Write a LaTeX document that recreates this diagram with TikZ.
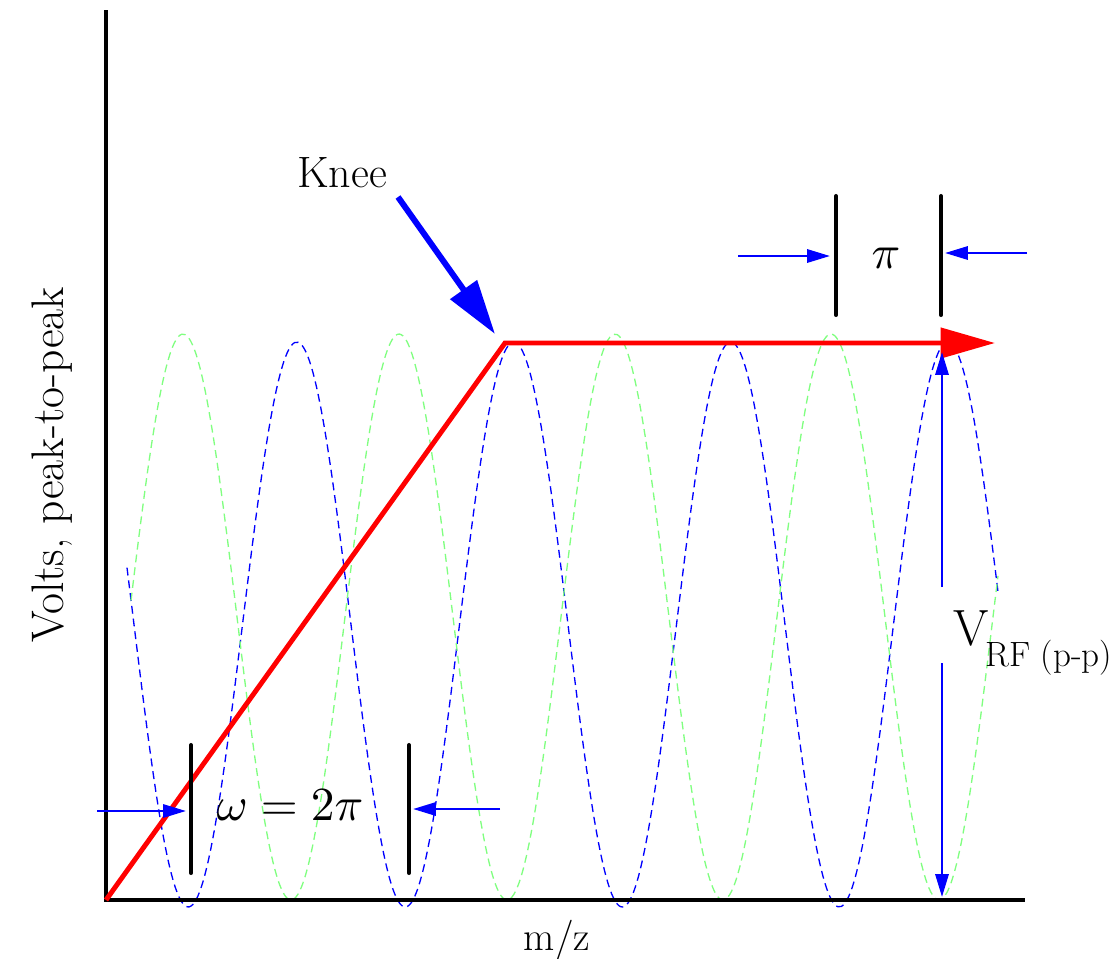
\documentclass[tikz,border=0pt]{standalone}
\usepackage{graphicx}
\usetikzlibrary{arrows.meta}
\definecolor{wavegreen}{RGB}{128,255,128}

\begin{document}
\begin{tikzpicture}[
  x=0.02cm, y=-0.02cm,
  axis/.style={line width=2.3pt, draw=black},
  ramp/.style={line width=2.8pt, draw=red, -{Triangle[length=31pt,width=17pt]}},
  bluewave/.style={draw=blue, line width=0.75pt, dash pattern=on 4.5pt off 2.8pt},
  greenwave/.style={draw=wavegreen, line width=0.75pt, dash pattern=on 4.5pt off 2.8pt},
  bar/.style={line width=2.3pt, draw=black, line cap=round},
  dim/.style={draw=blue, line width=1.4pt, -{Triangle[length=13pt,width=7.5pt]}},
  kneearr/.style={draw=blue, line width=3.4pt, -{Triangle[length=31pt,width=18pt]}},
  lbl/.style={font=\fontsize{25}{30}\selectfont, inner sep=0pt},
  sym/.style={font=\fontsize{29}{34}\selectfont, inner sep=0pt},
]
\useasboundingbox (0,0) rectangle (1119,958);

% Key points
\coordinate (O) at (106,900);
\coordinate (ytop) at (106,10);
\coordinate (xend) at (1025,900);
\coordinate (knee) at (505,343);
\coordinate (rfend) at (995,343);

% RF waves (period about 217 px)
\draw[bluewave] plot[domain=127:998, samples=240, smooth]
  (\x,{624.5+282.5*sin(1.659*(\x-134))});
\draw[greenwave] plot[domain=131:998, samples=240, smooth]
  (\x,{617-283*sin(1.6667*(\x-129))});

% Axes
\draw[axis] (ytop) -- (O) -- (xend);

% Ramp
\draw[ramp] (O) -- (knee) -- (rfend);

% Knee
\node[lbl, anchor=base] (kneelbl) at (342,187) {Knee};
\coordinate (kneefrom) at (398,197);
\coordinate (kneetip) at (495,334);
\draw[kneearr] (kneefrom) -- (kneetip);

% omega = 2 pi
\coordinate (w1t) at (191,745);
\coordinate (w1b) at (191,873);
\coordinate (w2t) at (409,745);
\coordinate (w2b) at (409,873);
\draw[bar] (w1t) -- (w1b);
\draw[bar] (w2t) -- (w2b);
\coordinate (w1in) at (97,811);
\coordinate (w1tip) at (186,811);
\coordinate (w2in) at (500,809);
\coordinate (w2tip) at (413,809);
\draw[dim] (w1in) -- (w1tip);
\draw[dim] (w2in) -- (w2tip);
\node[inner sep=0pt, anchor=base] (omega) at (290,820) {\scalebox{2.7}{$\omega = 2\pi$}};

% pi
\coordinate (p1t) at (836,196);
\coordinate (p1b) at (836,315);
\coordinate (p2t) at (941,196);
\coordinate (p2b) at (941,315);
\draw[bar] (p1t) -- (p1b);
\draw[bar] (p2t) -- (p2b);
\coordinate (p1in) at (738,256);
\coordinate (p1tip) at (830,256);
\coordinate (p2in) at (1027,253);
\coordinate (p2tip) at (945,253);
\draw[dim] (p1in) -- (p1tip);
\draw[dim] (p2in) -- (p2tip);
\node[inner sep=0pt, anchor=base] (pilbl) at (886,268) {\scalebox{2.7}{$\pi$}};

% V_RF
\coordinate (vup) at (942,587);
\coordinate (vuptip) at (942,352);
\coordinate (vdn) at (942,663);
\coordinate (vdntip) at (942,897);
\draw[dim] (vup) -- (vuptip);
\draw[dim] (vdn) -- (vdntip);
\node[sym, anchor=base west] (vrf) at (953,645)
  {V\kern-2pt\raisebox{-12.5pt}{\fontsize{20}{24}\selectfont RF (p-p)}};

% Axis labels
\node[lbl, font=\fontsize{23}{28}\selectfont, anchor=base] (mz) at (557,950) {m/z};
\node[lbl, font=\fontsize{26}{31}\selectfont, anchor=base, rotate=90] (volts) at (63,465) {Volts, peak-to-peak};

\end{tikzpicture}
\end{document}
